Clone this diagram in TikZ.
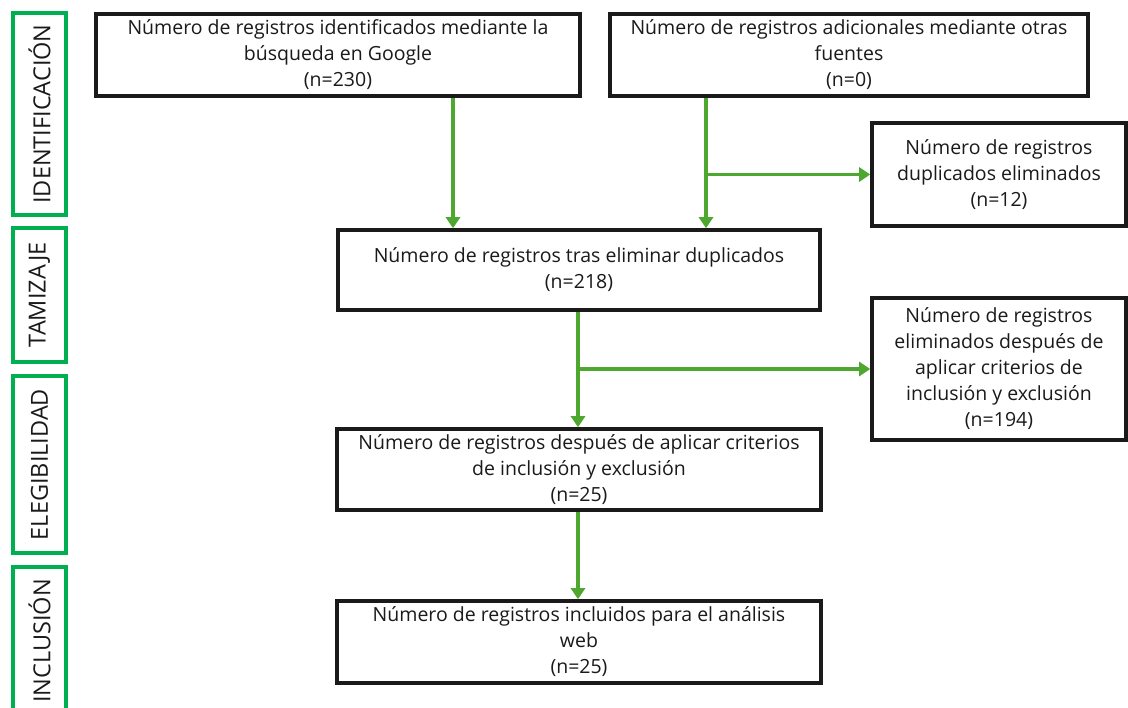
\documentclass[tikz,border=0pt]{standalone}
\usepackage{fontspec}
\setmainfont{Open Sans}
\usetikzlibrary{arrows.meta}
\definecolor{flowgreen}{HTML}{4EA72E}
\definecolor{phasegreen}{HTML}{00B050}
\definecolor{ink}{HTML}{1A1A1A}
\begin{document}
\begin{tikzpicture}[x=1pt,y=-1pt,
  box/.style={draw=ink,line width=3.6pt,fill=white,align=center,inner sep=2pt,
    font=\fontsize{19.5}{26}\selectfont,text=ink},
  phase/.style={draw=phasegreen,line width=4pt,minimum width=53pt,
    font=\fontsize{23.5}{26}\selectfont,text=ink,inner sep=0pt},
  arr/.style={draw=flowgreen,line width=3.4pt,-{Triangle[length=11pt,width=14pt]}}]
\useasboundingbox (0,0) rectangle (1128,708);
% phase labels
\node[phase,minimum height=202pt] (pid) at (39.5,114) {\rotatebox{90}{IDENTIFICACIÓN}};
\node[phase,minimum height=134pt] (ptam) at (39.5,295) {\rotatebox{90}{TAMIZAJE}};
\node[phase,minimum height=177pt] (pele) at (39.5,464.5) {\rotatebox{90}{ELEGIBILIDAD}};
\node[phase,minimum height=148pt] (pinc) at (39.5,641) {\rotatebox{90}{INCLUSIÓN}};
% flow boxes
\node[box,minimum width=484pt,minimum height=82pt] (A) at (338,55)
  {Número de registros identificados mediante la\\búsqueda en Google\\(n=230)};
\node[box,minimum width=478pt,minimum height=82pt] (B) at (849,55)
  {Número de registros adicionales mediante otras\\fuentes\\(n=0)};
\node[box,minimum width=254pt,minimum height=103pt] (C) at (999,174.5)
  {Número de registros\\duplicados eliminados\\(n=12)};
\node[box,minimum width=482pt,minimum height=80pt] (D) at (579,270)
  {Número de registros tras eliminar duplicados\\(n=218)};
\node[box,minimum width=254pt,minimum height=142pt] (E) at (999,369)
  {Número de registros\\eliminados después de\\aplicar criterios de\\inclusión y exclusión\\(n=194)};
\node[box,minimum width=484pt,minimum height=81pt] (F) at (579,469.5)
  {Número de registros después de aplicar criterios\\de inclusión y exclusión\\(n=25)};
\node[box,minimum width=484pt,minimum height=82pt] (G) at (579,642)
  {Número de registros incluidos para el análisis\\web\\(n=25)};
% connectors
\coordinate (ax) at (453,0);
\coordinate (bx) at (706,0);
\coordinate (dx) at (578,0);
\draw[arr] (A.south -| ax) -- (D.north -| ax);
\draw[arr] (B.south -| bx) -- (D.north -| bx);
\draw[arr] (C.west -| bx) -- (C.west);
\draw[arr] (D.south -| dx) -- (F.north -| dx);
\draw[arr] (E.west -| dx) -- (E.west);
\draw[arr] (F.south -| dx) -- (G.north -| dx);
\end{tikzpicture}
\end{document}
